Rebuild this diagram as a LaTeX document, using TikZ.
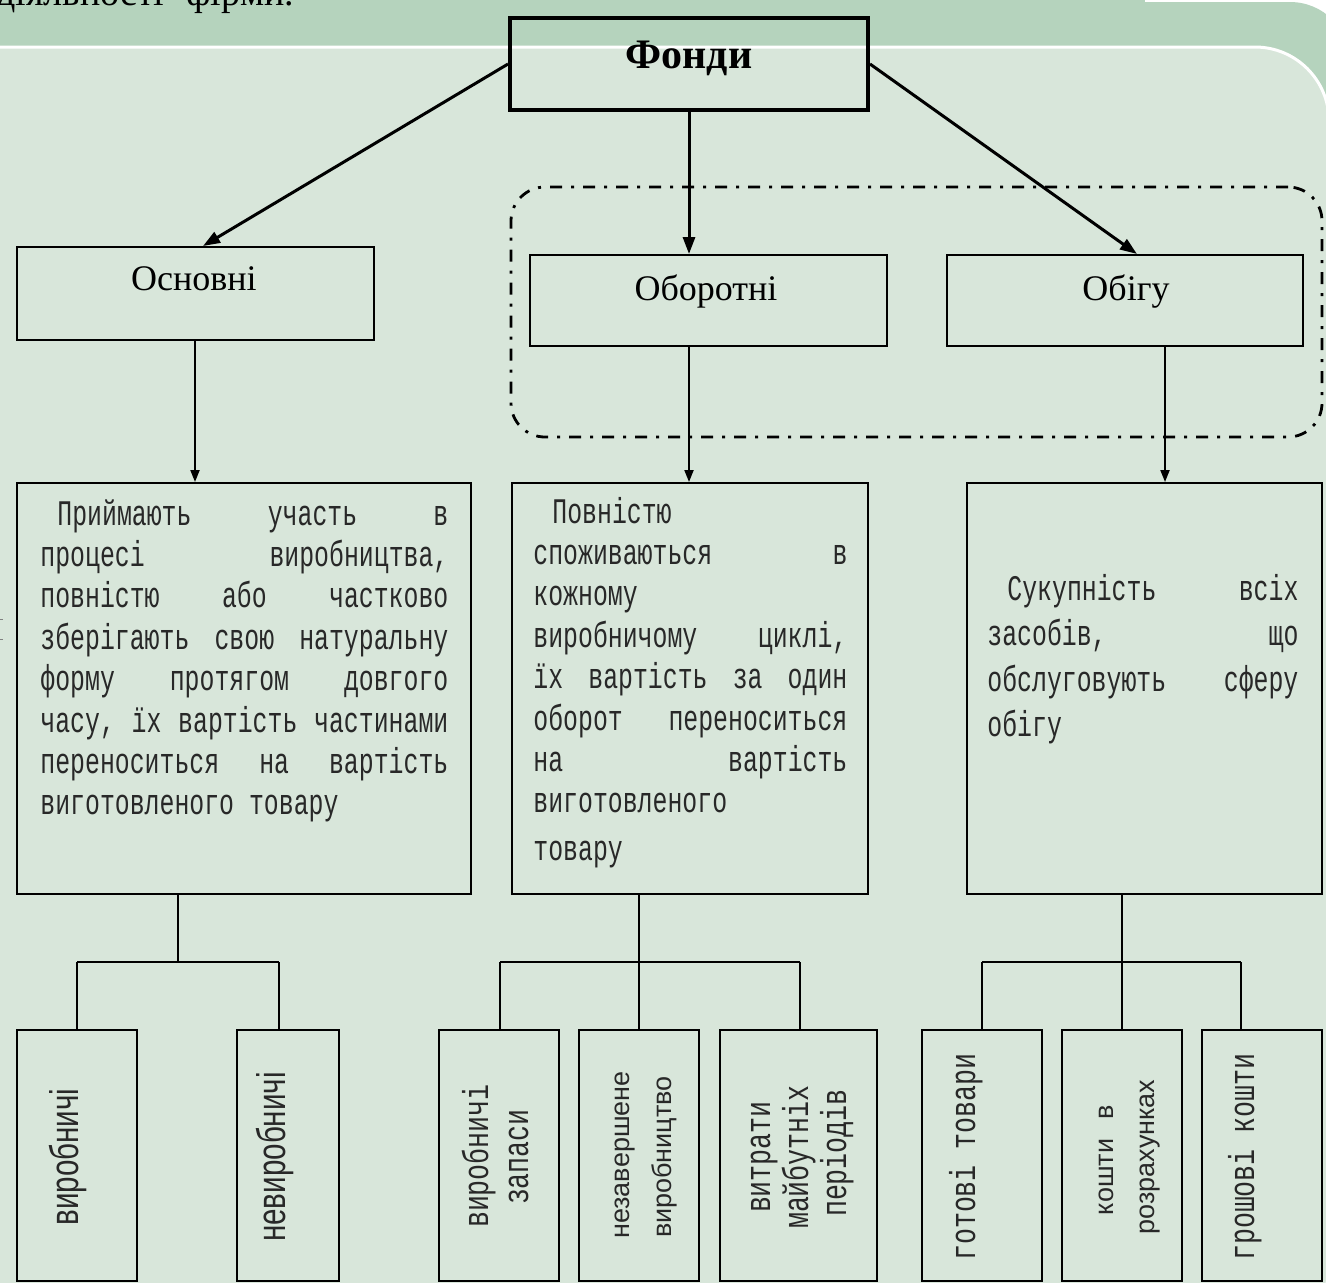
\documentclass[tikz,border=0pt]{standalone}
\usepackage{fontspec}
\setmainfont{Liberation Serif}
\newfontfamily\monoC[FakeStretch=0.69]{Liberation Mono}
\newfontfamily\monoV[FakeStretch=0.74]{Liberation Mono}
\newfontfamily\sansC[FakeStretch=0.74]{Liberation Sans}
\newfontfamily\sansN{Liberation Sans}
\usetikzlibrary{arrows.meta}
\definecolor{panel}{RGB}{216,230,218}
\definecolor{band}{RGB}{181,211,189}
\definecolor{inkgray}{RGB}{40,40,40}
\begin{document}
\begin{tikzpicture}[x=0.5pt,y=-0.5pt,
  bx/.style n args={2}{draw=black, line width=1pt, inner sep=0pt,
     minimum width=#1*0.5pt, minimum height=#2*0.5pt},
  smallbx/.style n args={2}{bx={#1}{#2}, line width=0.8pt},
  mainarrow/.style={line width=1.5pt, -{Triangle[length=8.5pt,width=6pt]}},
  subarrow/.style={line width=1pt, -{Triangle[length=6pt,width=4.5pt]}},
  tree/.style={line width=0.75pt},
  lbl/.style={inner sep=0pt, anchor=base, font=\fontsize{18}{20}\selectfont},
  vmono/.style={inner sep=0pt, anchor=base, rotate=90, text=inkgray, font=\monoV\fontsize{18}{20}\selectfont},
  vsans/.style={inner sep=0pt, anchor=base, rotate=90, text=inkgray, font=\sansN\fontsize{13.5}{16}\selectfont},
  vsansc/.style={inner sep=0pt, anchor=base, rotate=90, text=inkgray, font=\sansC\fontsize{20}{22}\selectfont},
  para/.style={inner sep=0pt, anchor=base west, text=inkgray},
  groupline/.style={draw=black, line width=1.4pt, rounded corners=17pt,
     dash pattern=on 6pt off 4.5pt on 1.5pt off 4.5pt, inner sep=0pt}
]
\useasboundingbox (0,0) rectangle (1326,1282);
\clip (0,0) rectangle (1326,1282);
% background
\fill[white] (0,0) rectangle (1326,1282);
\fill[band, rounded corners=30pt] (-200,2) rectangle (1350,1340);
\fill[band] (0,0) rectangle (1145,4);
\draw[white, line width=1.5pt, fill=panel, rounded corners=37pt] (-200,47) rectangle (1329,1340);
\node[inner sep=0pt, anchor=base west, font=\fontsize{19}{22}\selectfont] (toptext) at (-4,5) {діяльності\hspace{11pt}фірми.};
\draw[gray, line width=0.4pt] (0,619) -- (3,619) (0,639) -- (3,639);

% dash-dot group
\node[groupline, minimum width=405.5pt, minimum height=125pt] (grp) at (916.5,312) {};

% level 1
\node[bx={358}{92}, line width=2pt] (fondi) at (689,64) {};
\node[lbl, font=\bfseries\fontsize{21}{24}\selectfont] (fonditext) at (689,68) {Фонди};

% level 2
\node[bx={357}{93}] (osn) at (195.5,293.5) {};
\node[lbl] (osntext) at (194,290) {Основні};
\node[bx={357}{91}] (obor) at (708.5,300.5) {};
\node[lbl] (obortext) at (706,300) {Оборотні};
\node[bx={356}{91}] (obig) at (1125,300.5) {};
\node[lbl] (obigtext) at (1126,300) {Обігу};

% main arrows
\coordinate (tL) at (203,0);
\coordinate (tR) at (1137,0);
\draw[mainarrow] (fondi.west) -- (tL |- osn.north);
\draw[mainarrow] (fondi.south) -- (fondi.south |- obor.north);
\draw[mainarrow] (fondi.east) -- (tR |- obig.north);

% level 3 boxes
\node[bx={454}{411}] (pA) at (244,688.5) {};
\node[bx={356}{411}] (pB) at (690,688.5) {};
\node[bx={355}{411}] (pC) at (1144.5,688.5) {};

\node[para] (tA) at (40,525) {\monoC\fontsize{18}{20.7}\selectfont\vtop{\hsize=204pt \baselineskip=20.7pt \lineskiplimit=-100pt
\hbox to\hsize{\hskip 8.5pt Приймають\hfill участь\hfill в}
\hbox to\hsize{процесі\hfill виробництва,}
\hbox to\hsize{повністю\hfill або\hfill частково}
\hbox to\hsize{зберігають\hfill свою\hfill натуральну}
\hbox to\hsize{форму\hfill протягом\hfill довгого}
\hbox to\hsize{часу,\hfill їх\hfill вартість\hfill частинами}
\hbox to\hsize{переноситься\hfill на\hfill вартість}
\hbox{виготовленого товару}
}};

\node[para] (tB) at (533,523) {\monoC\fontsize{18}{20.7}\selectfont\vtop{\hsize=157pt \baselineskip=20.7pt \lineskiplimit=-100pt
\hbox{\hskip 9.5pt Повністю}
\hbox to\hsize{споживаються\hfill в}
\hbox{кожному}
\hbox to\hsize{виробничому\hfill циклі,}
\hbox to\hsize{їх\hfill вартість\hfill за\hfill один}
\hbox to\hsize{оборот\hfill переноситься}
\hbox to\hsize{на\hfill вартість}
\hbox{виготовленого}
\vskip 3pt
\hbox{товару}
}};

\node[para] (tC) at (987,600) {\monoC\fontsize{18}{20.7}\selectfont\vtop{\hsize=155.5pt \baselineskip=22.8pt \lineskiplimit=-100pt
\hbox to\hsize{\hskip 10pt Сукупність\hfill всіх}
\hbox to\hsize{засобів,\hfill що}
\hbox to\hsize{обслуговують\hfill сферу}
\hbox{обігу}
}};

% level 2 -> level 3 arrows
\coordinate (sA) at (195,0);
\coordinate (sB) at (689,0);
\coordinate (sC) at (1165,0);
\draw[subarrow] (sA |- osn.south) -- (sA |- pA.north);
\draw[subarrow] (sB |- obor.south) -- (sB |- pB.north);
\draw[subarrow] (sC |- obig.south) -- (sC |- pC.north);

% bottom boxes
\node[smallbx={120}{251}] (a1) at (77,1155.5) {};
\node[smallbx={102}{251}] (a2) at (288,1155.5) {};
\node[smallbx={120}{251}] (b1) at (499,1155.5) {};
\node[smallbx={120}{251}] (b2) at (639,1155.5) {};
\node[smallbx={157}{251}] (b3) at (798.5,1155.5) {};
\node[smallbx={120}{251}] (c1) at (982,1155.5) {};
\node[smallbx={120}{251}] (c2) at (1122,1155.5) {};
\node[smallbx={120}{251}] (c3) at (1262,1155.5) {};

% bottom labels
\node[vsansc] (la1) at (78,1157) {виробничі};
\node[vsansc] (la2) at (285,1157) {невиробничі};
\node[vmono] (lb1a) at (488,1156) {виробничі};
\node[vmono] (lb1b) at (528,1157) {запаси};
\node[vsans] (lb2a) at (629,1155) {незавершене};
\node[vsans] (lb2b) at (671,1157) {виробництво};
\node[vmono] (lb3a) at (770,1157) {витрати};
\node[vmono] (lb3b) at (808,1157) {майбутніх};
\node[vmono] (lb3c) at (846,1153) {періодів};
\node[vmono] (lc1) at (975,1157) {готові товари};
\node[vsans] (lc2a) at (1113,1160) {кошти\hspace{6pt} в};
\node[vsans] (lc2b) at (1154,1157) {розрахунках};
\node[vmono] (lc3) at (1254,1157) {грошові кошти};

% tree connectors
\coordinate (jA) at (178,962);
\coordinate (jA1) at (77,962);
\coordinate (jA2) at (279,962);
\draw[tree] (jA |- pA.south) -- (jA);
\draw[tree] (jA1) -- (jA2);
\draw[tree] (jA1) -- (jA1 |- a1.north);
\draw[tree] (jA2) -- (jA2 |- a2.north);

\coordinate (jB) at (639,962);
\coordinate (jB1) at (500,962);
\coordinate (jB3) at (800,962);
\draw[tree] (jB |- pB.south) -- (jB);
\draw[tree] (jB1) -- (jB3);
\draw[tree] (jB1) -- (jB1 |- b1.north);
\draw[tree] (jB) -- (jB |- b2.north);
\draw[tree] (jB3) -- (jB3 |- b3.north);

\coordinate (jC) at (1122,962);
\coordinate (jC1) at (982,962);
\coordinate (jC3) at (1241,962);
\draw[tree] (jC |- pC.south) -- (jC);
\draw[tree] (jC1) -- (jC3);
\draw[tree] (jC1) -- (jC1 |- c1.north);
\draw[tree] (jC) -- (jC |- c2.north);
\draw[tree] (jC3) -- (jC3 |- c3.north);
\end{tikzpicture}
\end{document}
